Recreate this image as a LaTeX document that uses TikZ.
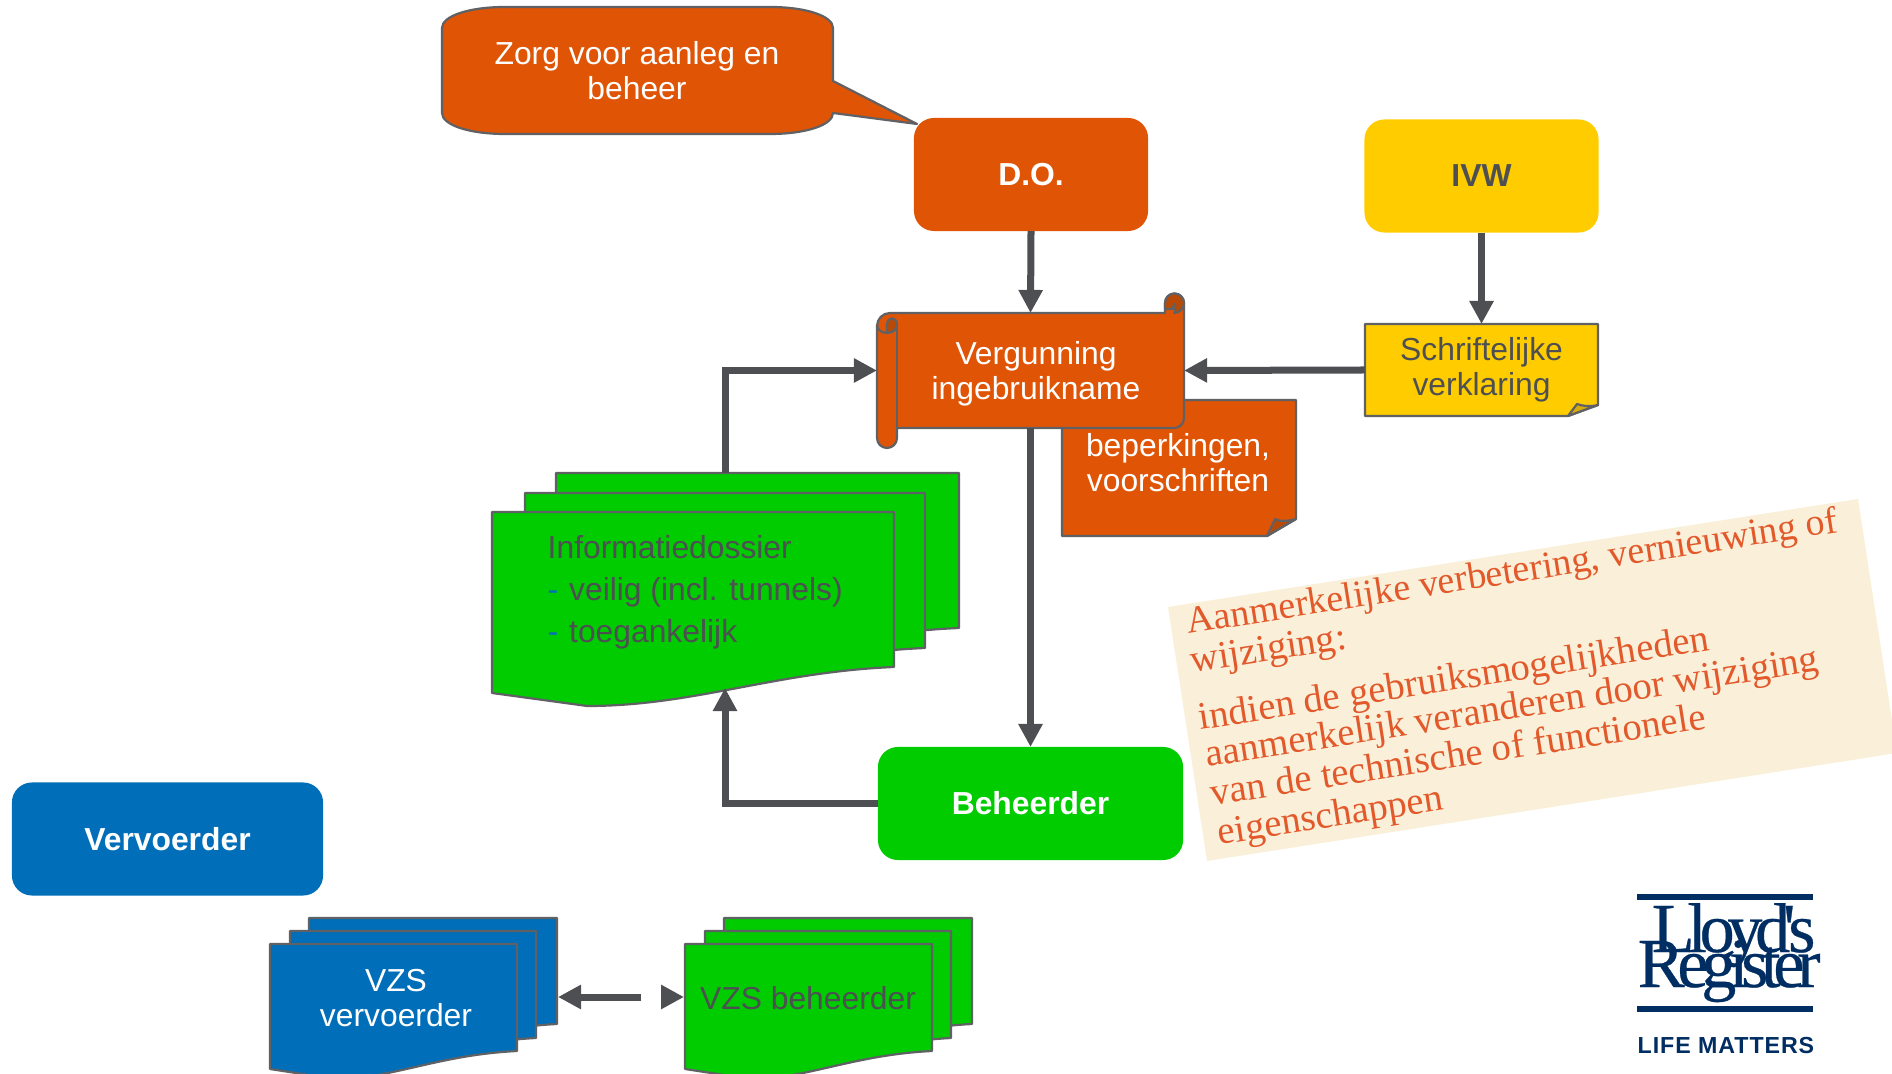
\documentclass[tikz,border=0pt]{standalone}
\usepackage{fontspec}
\usepackage{tikz}
\usetikzlibrary{arrows.meta}
\setmainfont{Liberation Sans}
\newfontfamily\panelfont{Liberation Serif}
\newfontfamily\logofont[LetterSpace=-10.5, FakeBold=0.4]{Liberation Serif}
\newfontfamily\mattersfont[LetterSpace=4]{Liberation Sans}

\begin{document}
\begin{tikzpicture}[x=0.01cm, y=-0.01cm,
    box/.style={rectangle, rounded corners=0.2cm, minimum height=1.13cm, font=\bfseries\fontsize{9.05}{10}\selectfont, outer sep=0pt},
    flow/.style={line width=0.07cm, draw=linegray, -{Triangle[length=0.23cm, width=0.23cm]}},
    shapeline/.style={draw=linegray!90, line width=0.022cm, line join=round},
    shapetext/.style={align=center, outer sep=0pt, inner sep=0pt, font=\fontsize{9.05}{9.95}\selectfont},
    paneltxt/.style={rotate=8.9, anchor=base west, inner sep=0pt, text=paneltext, font=\panelfont\fontsize{11}{11}\selectfont},
    logotxt/.style={anchor=base west, inner sep=0pt, text=logoblue, font=\logofont\fontsize{20}{20}\selectfont}
  ]
  % Define colors
  \definecolor{linegray}{RGB}{77,79,83}
  \definecolor{doorange}{RGB}{224,84,6}
  \definecolor{darkorange}{RGB}{184,74,6}
  \definecolor{ivwyellow}{RGB}{255,204,0}
  \definecolor{darkyellow}{RGB}{214,172,10}
  \definecolor{bhgreen}{RGB}{0,204,0}
  \definecolor{vvblue}{RGB}{0,110,184}
  \definecolor{panelcream}{RGB}{250,239,216}
  \definecolor{paneltext}{RGB}{226,89,43}
  \definecolor{logoblue}{RGB}{0,45,98}

  \useasboundingbox (0,0) rectangle (1892,1074);
  \clip (0,0) rectangle (1892,1074);

  % Callout
  \draw[shapeline, fill=doorange] (505,7) -- (770,7) .. controls (806,7) and (833,16) .. (833,28)
    -- (833,81) -- (917,124) -- (833,113) .. controls (833,125) and (806,134) .. (770,134)
    -- (505,134) .. controls (469,134) and (442,125) .. (442,113) -- (442,28)
    .. controls (442,16) and (469,7) .. (505,7) -- cycle;
  \node[shapetext, text=white] (zorg) at (637,71) {Zorg voor aanleg en\\beheer};

  % Top boxes
  \node[box, fill=doorange, text=white, minimum width=2.34cm] (do) at (1031,174.5) {D.O.};
  \node[box, fill=ivwyellow, text=linegray, minimum width=2.34cm] (ivw) at (1481.5,176) {IVW};

  % Note under the scroll
  \draw[shapeline, fill=doorange] (1062,400) -- (1296,400) -- (1296,519) -- (1267,536) -- (1062,536) -- cycle;
  \draw[shapeline, fill=darkorange] (1296,519) .. controls (1285,522) and (1278,521) .. (1275,519) -- (1267,536) -- cycle;
  \node[shapetext, text=white] (beperkingen) at (1178,463) {beperkingen,\\voorschriften};

  % Scroll
  \draw[shapeline, fill=doorange] (897,313) -- (1165,313) -- (1165,303) arc[start angle=180, end angle=360, radius=9.5]
    -- (1184,418) arc[start angle=0, end angle=90, radius=10] -- (897,428) -- (897,438)
    arc[start angle=0, end angle=180, radius=10] -- (877,326) arc[start angle=180, end angle=270, radius=13] -- cycle;
  \draw[shapeline, fill=darkorange] (1165,309) -- (1165,303) arc[start angle=180, end angle=360, radius=9.5]
    -- (1184,303) arc[start angle=0, end angle=90, radius=10] -- (1175,313) -- (1175,304) -- (1172,309) -- cycle;
  \draw[shapeline] (1165,309) -- (1175,309);
  \draw[shapeline, fill=darkorange] (887,333) .. controls (893,333) and (897,329) .. (897,325)
    .. controls (897,316) and (887,316) .. (887,325) -- cycle;
  \draw[shapeline] (877,325) .. controls (877,329) and (881,333) .. (887,333);
  \draw[shapeline] (897,325) -- (897,428);
  \node[shapetext, text=white, minimum width=3.07cm, minimum height=1.15cm] (vergunning) at (1030.5,370.5)
    {\rule{0pt}{0.3cm}\hspace*{0.11cm}Vergunning\\\hspace*{0.11cm}ingebruikname};

  % Stacked documents
  \foreach \xa/\xb/\ya/\yb in {556/959/473/628, 525/925/493/648, 492/894/512/667} {
    \draw[shapeline, fill=bhgreen] (\xa,\ya) -- (\xb,\ya) -- (\xb,\yb)
      .. controls ({\xb-120},{\yb+5}) and ({\xb-200},{\yb+39}) .. ({\xa+95},{\yb+39})
      -- (\xa,{\yb+26}) -- cycle;
  }
  \node[anchor=north west, align=left, inner sep=0pt, text=linegray, font=\fontsize{9.05}{11.9}\selectfont] (dossier) at (547,535)
    {Informatiedossier\\{\color{vvblue}-}\hspace{0.02cm} veilig (incl. tunnels)\\{\color{vvblue}-}\hspace{0.02cm} toegankelijk};
  \coordinate (dossiertop) at (725,473);
  \coordinate (dossierbottom) at (725,688);

  % Lower boxes
  \node[box, fill=bhgreen, text=white, minimum width=3.05cm] (beheerder) at (1030.5,803.5) {Beheerder};
  \node[box, fill=vvblue, text=white, minimum width=3.11cm] (vervoerder) at (167.5,839) {Vervoerder};

  % Yellow note
  \draw[shapeline, fill=ivwyellow] (1365,324) -- (1598,324) -- (1598,405) -- (1568,416) -- (1365,416) -- cycle;
  \draw[shapeline, fill=darkyellow] (1598,405) .. controls (1590,407) and (1582,406) .. (1577,404) -- (1568,416) -- cycle;
  \node[shapetext, text=linegray, minimum width=2.33cm, minimum height=0.92cm] (verklaring) at (1481.5,370) {Schriftelijke\\verklaring};

  % VZS stacks
  \foreach \col/\xshiftpx in {vvblue/0, bhgreen/415} {
    \foreach \xa/\xb/\ya/\yb in {309/557/918/1024, 290/536/931/1038, 270/517/944/1051} {
      \draw[shapeline, fill=\col] ({\xa+\xshiftpx},\ya) -- ({\xb+\xshiftpx},\ya) -- ({\xb+\xshiftpx},\yb)
        .. controls ({\xb+\xshiftpx-80},{\yb+4}) and ({\xb+\xshiftpx-125},{\yb+28}) .. ({\xa+\xshiftpx+65},{\yb+28})
        -- ({\xa+\xshiftpx},{\yb+18}) -- cycle;
    }
  }
  \node[shapetext, text=white] (vzsvervoerder) at (396,998) {VZS\\vervoerder};
  \node[shapetext, text=linegray] (vzsbeheerder) at (808,998) {VZS beheerder};
  \coordinate (vzsleft) at (558,997);
  \coordinate (vzsgap) at (641,997);
  \coordinate (vzshead) at (661,997);
  \coordinate (vzsright) at (684,997);

  % Arrows
  \draw[flow] (do.south) -- (vergunning.north);
  \draw[flow] (ivw.south) -- (verklaring.north);
  \draw[flow] (verklaring.west) -- (vergunning.east);
  \draw[flow] (dossiertop) |- (vergunning.west);
  \draw[flow] (vergunning.south) -- (beheerder.north);
  \draw[flow] (beheerder.west) -| (dossierbottom);
  \draw[flow] (vzsgap) -- (vzsleft);
  \draw[flow] (vzshead) -- (vzsright);

  % Text panel
  \fill[panelcream] (1168,607) -- (1858,499) -- (1897,753) -- (1207,861) -- cycle;
  \foreach \nm/\px/\py/\txt in {aanmerk/1188/634/{\fontsize{10.8}{11}\selectfont Aanmerkelijke verbetering, vernieuwing of}, wijz/1192/673/{wijziging:},
      indien/1200/730/{indien de gebruiksmogelijkheden}, aanm/1207/767/{aanmerkelijk veranderen door wijziging},
      vande/1212/806/{van de technische of functionele}, eigen/1219/845/{eigenschappen}} {
    \node[paneltxt] (\nm) at (\px,\py) {\txt};
  }

  % Logo
  \fill[logoblue] (1637,894) rectangle (1813,900);
  \fill[logoblue] (1637,1006) rectangle (1813,1012);
  \node[logotxt] (lloyds) at (1651,952) {Lloyd's};
  \node[logotxt] (register) at (1637,987) {Register};
  \node[anchor=base west, inner sep=0pt, text=logoblue, font=\mattersfont\bfseries\fontsize{6.6}{7}\selectfont] (matters) at (1637,1053) {LIFE MATTERS};
\end{tikzpicture}
\end{document}
